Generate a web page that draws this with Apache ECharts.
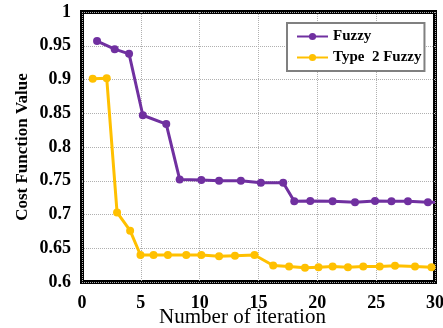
<!DOCTYPE html>
<html><head><meta charset="utf-8">
<script src="https://cdn.jsdelivr.net/npm/echarts@6/dist/echarts.min.js"></script>
<style>html,body{margin:0;padding:0;background:#fff}#c{width:443px;height:328px}</style>
</head><body><div id="c"></div>
<script>
var fuzzyX = [1.28, 2.78, 4.0, 5.17, 7.16, 8.3, 10.14, 11.65, 13.5, 15.2, 17.1, 18.04, 19.4, 21.3, 23.2, 24.9, 26.3, 27.7, 29.4, 30];
var fuzzyY = [0.957, 0.945, 0.938, 0.847, 0.834, 0.752, 0.751, 0.750, 0.750, 0.747, 0.747, 0.7195, 0.720, 0.7195, 0.718, 0.720, 0.7195, 0.7195, 0.718, 0.718];
var type2X = [0.91, 2.1, 2.98, 4.09, 4.97, 6.08, 7.3, 8.86, 10.14, 11.65, 13.0, 14.66, 16.25, 17.6, 18.95, 20.1, 21.3, 22.6, 23.9, 25.3, 26.6, 28.3, 29.7, 30];
var type2Y = [0.901, 0.902, 0.703, 0.676, 0.640, 0.640, 0.640, 0.640, 0.640, 0.638, 0.639, 0.640, 0.6244, 0.623, 0.621, 0.622, 0.623, 0.622, 0.623, 0.623, 0.624, 0.623, 0.622, 0.622];
var seriesNames = ['Fuzzy', 'Type  2 Fuzzy'];
var xAxisName = 'Number of iteration';
var yAxisName = 'Cost Function Value';

function pairs(xs, ys){
  return xs.map(function(x,i){
    var p = {value: [x, ys[i]]};
    if (x >= 30) { p.symbol = 'none'; }
    return p;
  });
}
var serif = '"Liberation Serif", "Times New Roman", serif';
var chart = echarts.init(document.getElementById('c'));
chart.setOption({
  animation: false,
  grid: {left: 82, right: 8, top: 12, bottom: 46, show: true, borderColor: '#000', borderWidth: 4,
         backgroundColor: 'transparent', outerBoundsMode: 'none', containLabel: false},
  legend: {
    orient: 'vertical', left: 287, top: 23,
    padding: [6, 3, 6, 9],
    itemWidth: 31, itemHeight: 9, itemGap: 6,
    borderColor: '#808080', borderWidth: 2, backgroundColor: '#fff',
    textStyle: {fontFamily: serif, fontWeight: 'bold', fontSize: 15, color: '#000'},
    data: seriesNames
  },
  xAxis: {
    type: 'value', min: 0, max: 30, interval: 5,
    name: xAxisName, nameLocation: 'middle', nameGap: 25, nameMoveOverlap: false,
    nameTextStyle: {fontFamily: serif, fontSize: 21, color: '#000', padding: [0, 32, 0, 0]},
    axisLine: {show: false}, axisTick: {show: false},
    axisLabel: {fontFamily: serif, fontWeight: 'bold', fontSize: 18, color: '#000', margin: 12},
    splitLine: {show: true, lineStyle: {type: 'dotted', color: '#b0b0b0', width: 1}}
  },
  yAxis: {
    type: 'value', min: 0.6, max: 1, interval: 0.05,
    name: yAxisName, nameLocation: 'middle', nameGap: 51, nameMoveOverlap: false,
    nameTextStyle: {fontFamily: serif, fontWeight: 'bold', fontSize: 17, color: '#000'},
    axisLine: {show: false}, axisTick: {show: false},
    axisLabel: {fontFamily: serif, fontWeight: 'bold', fontSize: 18, color: '#000', margin: 11,
      formatter: function(v){ return String(parseFloat(v.toFixed(2))); }},
    splitLine: {show: true, lineStyle: {type: 'dotted', color: '#b0b0b0', width: 1}}
  },
  series: [
    {name: seriesNames[0], type: 'line', data: pairs(fuzzyX, fuzzyY), symbol: 'circle', symbolSize: 8,
     color: '#7030A0', lineStyle: {width: 3}, clip: true},
    {name: seriesNames[1], type: 'line', data: pairs(type2X, type2Y), symbol: 'circle', symbolSize: 8,
     color: '#FFC000', lineStyle: {width: 3}, clip: true}
  ]
});
</script></body></html>
